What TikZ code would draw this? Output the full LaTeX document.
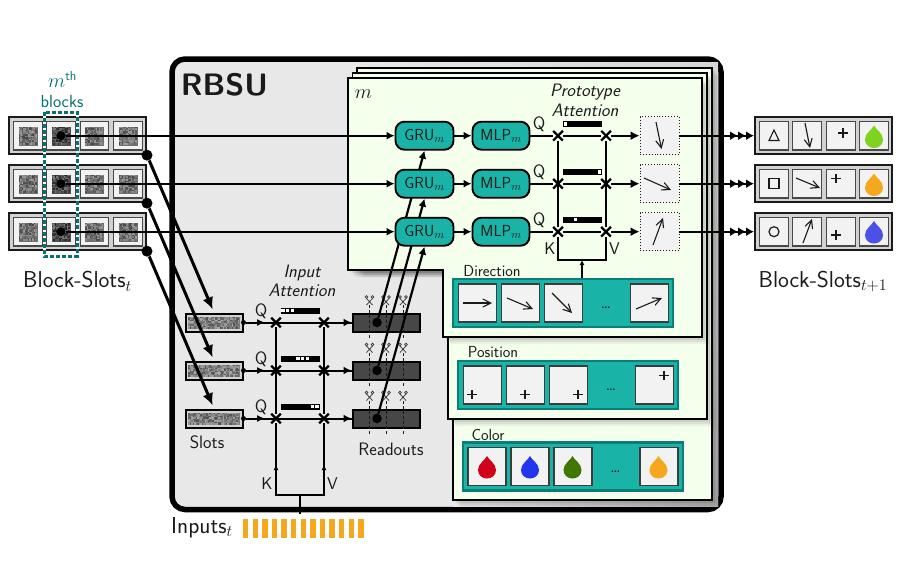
\RequirePackage{fix-cm}
\documentclass[tikz,border=0pt]{standalone}
\usetikzlibrary{arrows.meta,shapes.misc,calc}
\renewcommand{\familydefault}{\sfdefault}
\definecolor{tealfill}{HTML}{1AB3A8}
\definecolor{tealdark}{HTML}{0A7F78}
\definecolor{tealtext}{HTML}{0A6F6F}
\definecolor{panelgreen}{HTML}{F4FFEC}
\definecolor{rbsugray}{HTML}{E8E8E8}
\definecolor{cellgray}{HTML}{F2F2F2}
\definecolor{rowgray}{HTML}{D2D2D2}
\definecolor{inka}{HTML}{1A1A1A}
\definecolor{dropred}{HTML}{D0021B}
\definecolor{dropblue}{HTML}{2236F0}
\definecolor{dropgreen}{HTML}{3F7700}
\definecolor{droporange}{HTML}{F5A81E}
\definecolor{droplime}{HTML}{7ED321}
\definecolor{dropviolet}{HTML}{4A50E8}
\pgfdeclarelayer{front}
\pgfdeclarelayer{back}
\pgfsetlayers{back,main,front}
\tikzset{
  x=1pt,y=-1pt,
  lab/.style={font=\fontsize{#1}{#1}\selectfont,inner sep=0pt,text=inka},
  ital/.style={font=\fontsize{#1}{#1}\selectfont\itshape,inner sep=0pt,text=inka},
  rowbox/.style={draw=inka,fill=rowgray,line width=2pt,minimum width=137pt,minimum height=37pt,inner sep=0pt},
  cellbox/.style={draw=inka!80,fill=cellgray,line width=1.3pt,minimum width=28.5pt,minimum height=28.5pt,inner sep=0pt},
  protocell/.style={draw=inka,dotted,fill=cellgray,line width=.9pt,minimum width=39pt,minimum height=38pt,inner sep=0pt},
  lib/.style={draw=tealdark,fill=tealfill,line width=2.6pt,minimum width=220pt,minimum height=48pt,inner sep=0pt},
  libcell/.style={draw=inka!85,fill=cellgray,line width=1.2pt,minimum width=38pt,minimum height=38pt,inner sep=0pt},
  netblock/.style={draw=black,fill=tealfill,line width=1.9pt,rounded corners=9pt,minimum height=28pt,inner sep=0pt,font=\fontsize{16}{16}\selectfont,text=inka},
  dot/.style={circle,fill=black,inner sep=0pt,minimum size=#1},
  wire/.style={line width=2pt,draw=black},
  thinhead/.style={-{Latex[length=8pt,width=8pt]}},
  crossmark/.style={cross out,draw=black,line width=2.2pt,minimum size=7.5pt,inner sep=0pt},
  slotbox/.style={draw=black,fill=rowgray,line width=2pt,minimum width=57pt,minimum height=18pt,inner sep=0pt},
  readout/.style={draw=black,fill=black!72,line width=2pt,minimum width=67pt,minimum height=18pt,inner sep=0pt},
  panel/.style={draw=black,line width=1.7pt,fill=panelgreen,line join=miter},
  gly/.style={draw=inka,line width=1.1pt},
  cellarrow/.style={draw=inka,line width=1.1pt,-{Straight Barb[length=8pt,width=8pt]}},
  cutline/.style={draw=inka,line width=.9pt,dashed,dash pattern=on 3pt off 2pt},
  barbox/.style={draw=black,fill=black,line width=.8pt,minimum width=38pt,minimum height=5pt,inner sep=0pt},
}
\pgfmathsetseed{7}
\newcommand{\noisepatch}[6]{% x y w h lo range
  \pgfmathsetmacro{\basev}{#5+#6/2}
  \fill[black!\basev!white] (#1,#2) rectangle ++(#3,#4);
  \pgfmathtruncatemacro{\nnx}{#3/1.5-1}\pgfmathtruncatemacro{\nny}{#4/1.5-1}
  \foreach \ii in {0,...,\nnx}{\foreach \jj in {0,...,\nny}{
    \pgfmathtruncatemacro{\vv}{#5+rnd*#6}
    \fill[black!\vv!white] ({#1+1.5*\ii},{#2+1.5*\jj}) rectangle ++(1.5,1.5);
  }}
}
\newcommand{\dropmark}[3]{%
  \fill[#3,shift={(#1,#2)}] (0,-11) .. controls (2,-6.5) and (9,-3.5) .. (9,3)
     .. controls (9,8) and (5,11.5) .. (0,11.5) .. controls (-5,11.5) and (-9,8) .. (-9,3)
     .. controls (-9,-3.5) and (-2,-6.5) .. (0,-11) -- cycle;}
\newcommand{\plusmark}[2]{\draw[gly] (#1-4.8,#2) -- (#1+4.8,#2) (#1,#2-4.8) -- (#1,#2+4.8);}
\newcommand{\snipmark}[2]{%
  \draw[draw=inka!85,line width=.8pt,shift={(#1,#2)}] (-3,-1.5) -- (3,5) (3,-1.5) -- (-3,5);
  \draw[draw=inka!85,line width=.7pt,shift={(#1,#2)}] (-3,-3) circle (1.4) (3,-3) circle (1.4);}
\newcommand{\stackpanel}[1]{%
  \foreach \o/\sh in {7/.05,5/.06,3/.07}{\fill[black,opacity=\sh,shift={(\o,\o)}] #1 -- cycle;}
  \draw[panel] #1 -- cycle;}
\begin{document}
\begin{tikzpicture}
\useasboundingbox (0,0) rectangle (918,562);

% ---------- RBSU frame and stacked panels
\begin{pgfonlayer}{back}
\fill[white] (0,0) rectangle (918,562);
\filldraw[fill=rbsugray,draw=black,line width=5.5pt,rounded corners=13pt] (172,59) rectangle (721,509.5);
\shade[left color=rbsugray,right color=black!16] (357,62) rectangle (712,68);
\shade[top color=black!16,bottom color=black!32] (711,62) rectangle (718.2,506.7);
\shade[left color=rbsugray,right color=black!32] (453,500) rectangle (718,506.7);
\stackpanel{(357,68) -- (712,68) -- (712,500) -- (453,500) -- (453,270) -- (357,270)}
\stackpanel{(352.5,73) -- (707,73) -- (707,419) -- (448,419) -- (448,270) -- (352.5,270)}
\stackpanel{(348,78) -- (702,78) -- (702,337) -- (443,337) -- (443,270) -- (348,270)}
\end{pgfonlayer}
\node[lab=31,font=\fontsize{31}{31}\selectfont\bfseries,anchor=center] (title) at (224.5,85) {RBSU};
\node[lab=20] (mlabel) at (363.5,94) {$m$};

% ---------- GRU blocks sit above the long wires
\begin{pgfonlayer}{front}
\foreach \r/\y in {1/135.7,2/183.7,3/231.7}{
  \node[netblock,minimum width=58pt] (gru\r) at (424.5,\y) {GRU$_m$};
}
\end{pgfonlayer}

% ---------- Block-Slots at t
\foreach \r/\y in {1/135.7,2/183.7,3/231.7}{
  \node[rowbox] (bs\r) at (77.5,\y) {};
  \foreach \c/\x in {1/28,2/61,3/94.5,4/128}{
    \node[cellbox] (bs\r c\c) at (\x,\y) {};
  }
  \noisepatch{18.5}{\y-9}{19}{19}{38}{36}
  \noisepatch{51.5}{\y-9}{19}{19}{52}{36}
  \noisepatch{85}{\y-9}{19}{19}{38}{36}
  \noisepatch{118.5}{\y-9}{19}{19}{38}{36}
  \node[dot=9pt] (bdot\r) at (61,\y) {};
  \node[dot=11pt] (sdot\r) at (147,\y+19.5) {};
}
\draw[white,line width=3pt] (44,112) rectangle (77,256);
\draw[tealtext,line width=3pt,dash pattern=on 4pt off 2pt] (44,112) rectangle (77,256);
\node[lab=20,text=tealtext] (mth) at (62.5,79.5) {$m^{\textsf{\fontsize{13}{13}\selectfont th}}$};
\node[lab=17.5,text=tealtext] (blocks) at (62,101) {blocks};
\node[lab=23] (bslabel) at (77.5,281.5) {Block-Slots$_t$};

% ---------- Input attention
\foreach \r/\y in {1/322.5,2/370.5,3/418.5}{
  \node[slotbox] (slot\r) at (214,\y) {};
  \noisepatch{188}{\y-6}{52}{12}{33}{36}
  \node[dot=5pt] (sout\r) at (slot\r.east) {};
  \node[readout] (read\r) at (386,\y) {};
  \coordinate (qa\r) at (265,\y);
  \node[crossmark] (ik\r) at (276,\y) {};
  \node[crossmark] (iv\r) at (324,\y) {};
  \node[lab=18] (iq\r) at (261,\y-11.5) {Q};
  \draw[wire] (sout\r) -- (read\r.west);
  \draw[wire,-{Latex[length=8pt,width=7pt]}] (sout\r) -- (qa\r);
  \draw[wire,thinhead] (iv\r) -- (read\r.west);
  \draw[-{Latex[length=12pt,width=11pt]},line width=3pt,shorten >=3.5pt] (sdot\r) -- (slot\r.north);
}
\node[barbox] (ibar1) at (300.5,310.7) {};
\node[barbox] (ibar2) at (300.5,358.7) {};
\node[barbox] (ibar3) at (300.5,406.7) {};
\foreach \x in {283,287.7,292.4}{\fill[white] (\x-1.6,309) rectangle (\x+1.6,312.4);}
\foreach \x in {298,302.7,307.4}{\fill[white] (\x-1.6,357) rectangle (\x+1.6,360.4);}
\foreach \x in {312.5,317}{\fill[white] (\x-1.6,405) rectangle (\x+1.6,408.4);}
\coordinate (ikb) at (276,495);
\coordinate (ivb) at (324,495);
\coordinate (ijoin) at (300,495);
\coordinate (istem) at (300,514);
\coordinate (ikt) at (276,465);
\coordinate (ivt) at (324,465);
\draw[wire] (ik1) -- (ik3) -- (ikb) -- (ivb) -- (iv3) -- (iv1);
\draw[wire,-{Latex[length=5pt,width=5pt]}] (ikb) -- (ikt);
\draw[wire,-{Latex[length=5pt,width=5pt]}] (ivb) -- (ivt);
\draw[wire] (ijoin) -- (istem);
\node[lab=17] (ikl) at (267,484) {K};
\node[lab=17] (ivl) at (332.5,484) {V};
\node[ital=18] (ia1) at (302,273) {Input};
\node[ital=18] (ia2) at (302,290.5) {Attention};
\node[lab=18] (slotslab) at (207,442.5) {Slots};
\node[lab=18] (readlab) at (391,449.5) {Readouts};

% scissors and cut lines
\foreach \y/\ya/\yb in {300/305/339,347.5/353/387,395.5/401/435}{
  \foreach \x in {369.5,386,403}{
    \snipmark{\x}{\y}
    \draw[cutline] (\x,\ya) -- (\x,\yb);
  }
}
% readout to GRU
\foreach \r/\y in {1/322.5,2/370.5,3/418.5}{
  \node[dot=9.5pt] (rdot\r) at (377,\y) {};
  \draw[line width=2.2pt,-{Latex[length=8pt,width=8pt]}] (rdot\r) -- (gru\r.south);
}

% Inputs
\node[lab=23] (inlab) at (202,527.5) {Inputs$_t$};
\foreach \i in {0,...,12}{
  \fill[droporange] ({243+9.6*\i},519) rectangle ++(5.4,19);
}

% ---------- m-th row pipeline
\foreach \r/\y in {1/135.7,2/183.7,3/231.7}{
  \node[netblock,minimum width=57pt] (mlp\r) at (501,\y) {MLP$_m$};
  \node[protocell] (proto\r) at (659.5,\y) {};
  \node[crossmark] (pk\r) at (558,\y) {};
  \node[crossmark] (pv\r) at (606,\y) {};
  \node[lab=18] (pq\r) at (539,\y-11) {Q};
  \node[rowbox] (out\r) at (823.5,\y) {};
  \draw[wire,thinhead] (bdot\r) -- (gru\r.west);
  \draw[wire,thinhead] (gru\r.east) -- (mlp\r.west);
  \draw[wire] (mlp\r.east) -- (pk\r) -- (pv\r);
  \draw[wire,-{Latex[length=9pt,width=9pt]}] (pv\r) -- (proto\r.west);
  \draw[wire,-{Latex[length=8pt,width=9pt]Latex[length=8pt,width=9pt]Latex[length=8pt,width=9pt]}] (proto\r.east) -- (out\r.west);
  \foreach \c/\x in {1/774,2/807,3/841,4/874}{
    \node[cellbox] (out\r c\c) at (\x,\y) {};
  }
}
\node[barbox] (pbar1) at (582.5,124) {};
\node[barbox] (pbar2) at (582.5,172) {};
\node[barbox] (pbar3) at (582.5,219.7) {};
\fill[white] (564,122.3) rectangle (567,125.7);
\fill[white] (597.7,170.3) rectangle (601,173.7);
\fill[white] (573.5,218) rectangle (576.8,221.4);
\coordinate (pkb) at (558,260);
\coordinate (pvb) at (606,260);
\coordinate (pjoin) at (582,260);
\coordinate (pstem) at (582,278);
\draw[wire] (pk1) -- (pk3) -- (pkb) -- (pvb) -- (pv3) -- (pv1);
\draw[wire,-{Latex[length=5pt,width=5pt]}] (pstem) -- (pjoin);
\node[lab=17] (pkl) at (550,249) {K};
\node[lab=17] (pvl) at (614.5,249) {V};
\node[ital=18] (pa1) at (585,92) {Prototype};
\node[ital=18] (pa2) at (585,110) {Attention};

% glyphs in prototype cells
\draw[cellarrow] (656,122) -- (661.5,149);
\draw[cellarrow] (644,178) -- (671,190);
\draw[cellarrow] (653,245) -- (663,218);

% ---------- libraries
\node[lab=16,anchor=center] (dirlab) at (492,271) {Direction};
\node[lib] (dirlib) at (563,303) {};
\foreach \c/\x in {1/477.5,2/520.5,3/563.5,4/649.5}{\node[libcell] (dir\c) at (\x,303) {};}
\node[lab=18] (dirdots) at (606,308) {\dots};
\draw[cellarrow] (463,303) -- (492,303);
\draw[cellarrow] (507,298) -- (533,309);
\draw[cellarrow] (552,293) -- (572,313);
\draw[cellarrow] (636,309) -- (662,298);

\node[lab=16] (poslab) at (493,352.5) {Position};
\node[lib] (poslib) at (568,385) {};
\foreach \c/\x in {1/482.5,2/525.5,3/568.5,4/654.5}{\node[libcell] (pos\c) at (\x,385) {};}
\node[lab=18] (posdots) at (611,390) {\dots};
\plusmark{472}{394.5}
\plusmark{525}{394.5}
\plusmark{578}{394.5}
\plusmark{664}{375.5}

\node[lab=16] (collab) at (488,434.5) {Color};
\node[lib] (collib) at (573,466.5) {};
\foreach \c/\x in {1/487,2/530,3/573,4/659}{\node[libcell] (col\c) at (\x,466.5) {};}
\node[lab=18] (coldots) at (615.5,472) {\dots};
\dropmark{487}{467}{dropred}
\dropmark{530}{467}{dropblue}
\dropmark{572.5}{467}{dropgreen}
\dropmark{658.5}{467}{droporange}

% ---------- outputs glyphs
\draw[gly] (774,130) -- (779,140.5) -- (769,140.5) -- cycle;
\draw[gly,line width=1.2pt] (769,178.5) rectangle (779,188.5);
\draw[gly,line width=1.2pt] (774,231.7) circle (5);
\draw[cellarrow] (805,123) -- (810,148);
\draw[cellarrow] (796,178) -- (820,188);
\draw[cellarrow] (803,243) -- (812,219);
\plusmark{843}{133}
\plusmark{836}{178.5}
\plusmark{836}{235}
\dropmark{874}{136.5}{droplime}
\dropmark{874}{184.5}{droporange}
\dropmark{874}{232}{dropviolet}
\node[lab=23] (bsnext) at (823,281.5) {Block-Slots$_{t+1}$};
\end{tikzpicture}
\end{document}
